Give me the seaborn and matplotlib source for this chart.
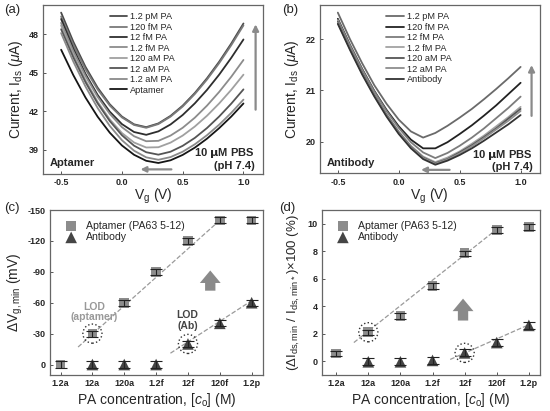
import numpy as np
import pandas as pd
import seaborn as sns
import matplotlib.pyplot as plt

# gate voltage sweep (V)
vg = [-0.5, -0.4, -0.3, -0.2, -0.1, 0.0, 0.1, 0.2, 0.3, 0.4, 0.5, 0.6, 0.7, 0.8, 0.9, 1.0]

# (a) aptamer sensor, Ids in uA
a_labels = ["1.2 pM PA", "120 fM PA", "12 fM PA", "1.2 fM PA", "120 aM PA", "12 aM PA", "1.2 aM PA", "Aptamer"]
a_12pM = [49.70, 47.43, 45.47, 43.84, 42.54, 41.58, 40.97, 40.75, 41.04, 41.63, 42.43, 43.42, 44.57, 45.86, 47.29, 48.85]
a_120fM = [49.40, 47.19, 45.28, 43.70, 42.44, 41.51, 40.92, 40.70, 40.99, 41.57, 42.36, 43.34, 44.47, 45.75, 47.16, 48.70]
a_12fM = [49.20, 46.90, 44.92, 43.27, 41.96, 40.99, 40.37, 40.15, 40.42, 40.96, 41.70, 42.61, 43.66, 44.85, 46.17, 47.60]
a_1fM = [48.90, 46.69, 44.76, 43.12, 41.79, 40.75, 40.04, 39.65, 39.68, 40.09, 40.70, 41.49, 42.43, 43.50, 44.69, 46.00]
a_120aM = [48.70, 46.42, 44.43, 42.74, 41.36, 40.29, 39.55, 39.16, 39.18, 39.54, 40.09, 40.80, 41.64, 42.60, 43.67, 44.85]
a_12aM = [48.40, 46.20, 44.27, 42.61, 41.23, 40.12, 39.30, 38.79, 38.60, 38.83, 39.29, 39.91, 40.68, 41.58, 42.59, 43.70]
a_1aM = [48.10, 45.88, 43.93, 42.25, 40.85, 39.73, 38.91, 38.39, 38.20, 38.41, 38.83, 39.41, 40.12, 40.94, 41.87, 42.90]
a_apt = [46.80, 44.82, 43.07, 41.57, 40.32, 39.32, 38.59, 38.12, 37.95, 38.16, 38.58, 39.15, 39.85, 40.67, 41.58, 42.60]
a_colors = ["#4a4a4a", "#7a7a7a", "#2e2e2e", "#8c8c8c", "#a0a0a0", "#555555", "#8a8a8a", "#151515"]

# (b) antibody sensor, Ids in uA
b_labels = ["1.2 pM PA", "120 fM PA", "12 fM PA", "1.2 fM PA", "120 aM PA", "12 aM PA", "Antibody"]
b_12pM = [22.52, 22.00, 21.53, 21.10, 20.74, 20.43, 20.20, 20.08, 20.17, 20.31, 20.47, 20.64, 20.83, 21.03, 21.24, 21.46]
b_120fM = [22.40, 21.89, 21.42, 20.99, 20.62, 20.30, 20.04, 19.87, 19.87, 19.99, 20.15, 20.32, 20.51, 20.71, 20.93, 21.15]
b_12fM = [22.38, 21.88, 21.41, 20.98, 20.60, 20.27, 19.99, 19.79, 19.68, 19.78, 19.92, 20.08, 20.26, 20.46, 20.66, 20.88]
b_1fM = [22.36, 21.84, 21.37, 20.93, 20.54, 20.20, 19.92, 19.71, 19.60, 19.69, 19.81, 19.96, 20.12, 20.30, 20.48, 20.68]
b_120aM = [22.34, 21.82, 21.35, 20.91, 20.52, 20.18, 19.90, 19.69, 19.58, 19.66, 19.79, 19.93, 20.09, 20.26, 20.45, 20.64]
b_12aM = [22.32, 21.81, 21.33, 20.90, 20.51, 20.17, 19.89, 19.68, 19.57, 19.65, 19.77, 19.91, 20.07, 20.24, 20.41, 20.60]
b_ab = [22.30, 21.79, 21.31, 20.88, 20.49, 20.15, 19.87, 19.66, 19.55, 19.63, 19.74, 19.87, 20.02, 20.18, 20.34, 20.52]
b_colors = ["#6a6a6a", "#222222", "#7c7c7c", "#a2a2a2", "#555555", "#8e8e8e", "#333333"]

# (c),(d) summary vs concentration
conc = ["1.2a", "12a", "120a", "1.2f", "12f", "120f", "1.2p"]
c_apt = [0, -30, -60, -90, -120, -140, -140]
c_ab = [np.nan, 0, 0, 0, -20, -40, -60]
c_err = 3
d_apt = [0.55, 2.1, 3.3, 5.45, 7.85, 9.55, 9.75]
d_ab = [np.nan, -0.05, -0.05, 0.05, 0.6, 1.35, 2.6]
d_err_apt = 0.2
d_err_ab = 0.25
# linear fits (index, value)
c_fit_apt = ([0.55, 5.0], [-17, -140])
c_fit_ab = ([3.45, 6.0], [-11, -62])
d_fit_apt = ([0.55, 5.0], [1.35, 9.6])
d_fit_ab = ([3.55, 6.0], [0.12, 2.65])
# limit of detection marks
c_lod = ([1, 4], [-30, -20])
d_lod = ([1, 4], [2.1, 0.6])

sns.set_theme(style="ticks")
plt.rcParams['font.family'] = ['Liberation Sans', 'DejaVu Sans']
plt.rcParams['mathtext.fontset'] = 'custom'
plt.rcParams['mathtext.rm'] = 'Liberation Sans'
plt.rcParams['mathtext.it'] = 'Liberation Sans:italic'
plt.rcParams['axes.unicode_minus'] = False

fig = plt.figure(figsize=(5.5, 4.11), dpi=100)
ax_a = fig.add_axes([0.078, 0.577, 0.400, 0.411])
ax_b = fig.add_axes([0.581, 0.578, 0.401, 0.410])
ax_c = fig.add_axes([0.091, 0.088, 0.388, 0.401])
ax_d = fig.add_axes([0.585, 0.088, 0.397, 0.401])


def style(ax):
    for s in ax.spines.values():
        s.set_color("#666666")
        s.set_linewidth(0.9)
    ax.tick_params(direction="in", length=2.5, width=0.7, color="#555555",
                   labelsize=6.5, pad=3)
    for t in ax.get_xticklabels() + ax.get_yticklabels():
        t.set_fontweight("bold")


def curves(ax, labels, series, colors):
    rows = []
    for lab, ys in zip(labels, series):
        for x, y in zip(vg, ys):
            rows.append((lab, x, y))
    df = pd.DataFrame(rows, columns=["sample", "Vg", "Ids"])
    sns.lineplot(data=df, x="Vg", y="Ids", hue="sample", hue_order=labels,
                 palette=dict(zip(labels, colors)), lw=1.3, ax=ax,
                 estimator=None, sort=False)
    sns.move_legend(ax, "upper left", bbox_to_anchor=(0.27, 1.0), frameon=False,
                    title=None, fontsize=6.6, handlelength=1.9, handletextpad=0.35,
                    labelspacing=0.16, borderpad=0.3)
    ax.set_xlim(-0.65, 1.16)
    ax.set_xticks([-0.5, 0.0, 0.5, 1.0])
    ax.set_xticklabels(["-0.5", "0.0", "0.5", "1.0"])
    ax.set_xlabel("V$_{\\mathrm{g}}$ (V)", fontsize=10, labelpad=0)
    ax.set_ylabel("Current, I$_{\\mathrm{ds}}$ ($\\mu$A)", fontsize=10, labelpad=3)


# (a)
curves(ax_a, a_labels, [a_12pM, a_120fM, a_12fM, a_1fM, a_120aM, a_12aM, a_1aM, a_apt], a_colors)
ax_a.set_ylim(37.1, 50.3)
ax_a.set_yticks([39, 42, 45, 48])
ax_a.text(-0.59, 37.95, "Aptamer", fontsize=8, fontweight="bold", va="center")
ax_a.text(1.09, 38.7, "10 $\\mathbf{\\mu}$M PBS", fontsize=8, fontweight="bold", ha="right", va="center")
ax_a.text(1.09, 37.7, "(pH 7.4)", fontsize=8, fontweight="bold", ha="right", va="center")
ax_a.annotate("", xy=(1.10, 49.0), xytext=(1.10, 41.9),
              arrowprops=dict(arrowstyle="-|>", color="#8a8a8a", lw=1.6, mutation_scale=9))
ax_a.annotate("", xy=(0.13, 37.45), xytext=(0.43, 37.45),
              arrowprops=dict(arrowstyle="-|>", color="#8a8a8a", lw=1.6, mutation_scale=8))
style(ax_a)

# (b)
curves(ax_b, b_labels, [b_12pM, b_120fM, b_12fM, b_1fM, b_120aM, b_12aM, b_ab], b_colors)
ax_b.set_ylim(19.38, 22.67)
ax_b.set_yticks([20, 21, 22])
ax_b.text(-0.59, 19.58, "Antibody", fontsize=8, fontweight="bold", va="center")
ax_b.text(1.1, 19.74, "10 $\\mathbf{\\mu}$M PBS", fontsize=8, fontweight="bold", ha="right", va="center")
ax_b.text(1.1, 19.51, "(pH 7.4)", fontsize=8, fontweight="bold", ha="right", va="center")
ax_b.annotate("", xy=(1.09, 21.55), xytext=(1.09, 20.45),
              arrowprops=dict(arrowstyle="-|>", color="#8a8a8a", lw=1.6, mutation_scale=9))
ax_b.annotate("", xy=(0.16, 19.45), xytext=(0.44, 19.45),
              arrowprops=dict(arrowstyle="-|>", color="#8a8a8a", lw=1.6, mutation_scale=8))
style(ax_b)


def summary(ax, apt, ab, err_apt, err_ab, fit_apt, fit_ab, lod):
    idx = list(range(len(conc)))
    ax.plot(*fit_apt, ls="--", color="#9a9a9a", lw=0.9, zorder=1)
    ax.plot(*fit_ab, ls="--", color="#9a9a9a", lw=0.9, zorder=1)
    sns.scatterplot(x=idx, y=apt, marker="s", s=48, color="#8c8c8c", edgecolor="none",
                    label="Aptamer (PA63 5-12)", ax=ax, zorder=3)
    sns.scatterplot(x=idx, y=ab, marker="^", s=70, color="#454545", edgecolor="none",
                    label="Antibody", ax=ax, zorder=3)
    ax.errorbar(idx, apt, yerr=err_apt, fmt="none", ecolor="#222222", elinewidth=0.8,
                capsize=4.5, capthick=0.8, zorder=4)
    ax.errorbar(idx, ab, yerr=err_ab, fmt="none", ecolor="#222222", elinewidth=0.8,
                capsize=4.5, capthick=0.8, zorder=4)
    ax.scatter(*lod, s=190, facecolors="none", edgecolors="#333333", linestyles=":",
               linewidths=1.0, zorder=5)
    ax.legend(loc="upper left", bbox_to_anchor=(0.0, 1.0), frameon=False, fontsize=7.6,
              handletextpad=0.4, labelspacing=0.15, borderpad=0.5, markerscale=1.0)
    ax.set_xticks(idx)
    ax.set_xticklabels(conc)
    ax.set_xlabel("PA concentration, [$c_{\\mathrm{o}}$] (M)", fontsize=10, labelpad=2)


# (c)
summary(ax_c, c_apt, c_ab, c_err, c_err, c_fit_apt, c_fit_ab, c_lod)
ax_c.set_xlim(-0.33, 6.37)
ax_c.set_ylim(10, -150)
ax_c.set_yticks([0, -30, -60, -90, -120, -150])
ax_c.set_ylabel("$\\Delta$V$_{\\mathrm{g,min}}$ (mV)", fontsize=10, labelpad=2)
ax_c.text(1.05, -51, "LOD\n(aptamer)", fontsize=7.5, fontweight="bold", color="#999999",
          ha="center", va="center", linespacing=1.1)
ax_c.text(3.98, -42.5, "LOD\n(Ab)", fontsize=7.5, fontweight="bold", color="#444444",
          ha="center", va="center", linespacing=1.1)
ax_c.annotate("", xy=(4.7, -94), xytext=(4.7, -69),
              arrowprops=dict(arrowstyle="simple,head_length=0.75,head_width=1.25,tail_width=0.62",
                              fc="#8a8a8a", ec="none", mutation_scale=12))
style(ax_c)

# (d)
summary(ax_d, d_apt, d_ab, d_err_apt, d_err_ab, d_fit_apt, d_fit_ab, d_lod)
ax_d.set_xlim(-0.45, 6.35)
ax_d.set_ylim(-1, 11)
ax_d.set_yticks([0, 2, 4, 6, 8, 10])
ax_d.set_ylabel("($\\Delta$I$_{\\mathrm{ds,min}}$ / I$_{\\mathrm{ds,min*}}$)$\\times$100 (%)",
                fontsize=9.5, labelpad=4)
ax_d.annotate("", xy=(3.95, 4.75), xytext=(3.95, 2.75),
              arrowprops=dict(arrowstyle="simple,head_length=0.75,head_width=1.25,tail_width=0.62",
                              fc="#8a8a8a", ec="none", mutation_scale=12))
style(ax_d)

for lab, x, y in [("(a)", 0.008, 0.975), ("(b)", 0.513, 0.975),
                  ("(c)", 0.008, 0.494), ("(d)", 0.508, 0.494)]:
    fig.text(x, y, lab, fontsize=9.5, va="center")

fig.savefig("out.png", dpi=100)
